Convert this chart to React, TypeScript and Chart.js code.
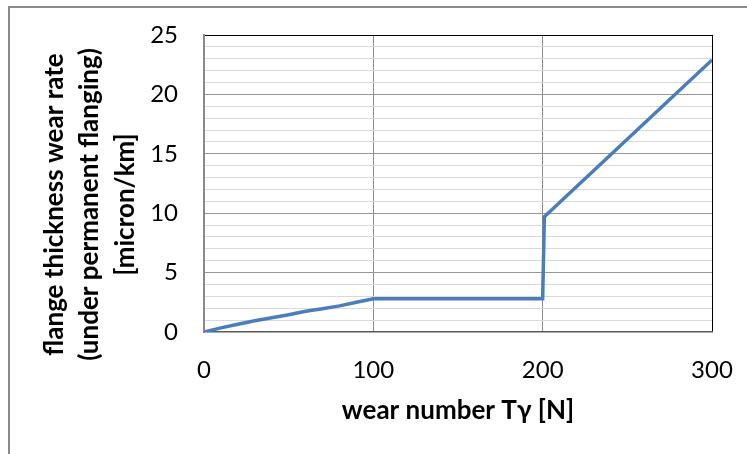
import React, { useEffect, useRef } from "react";
import { Chart, registerables } from "chart.js";

Chart.register(...registerables);

// ---- data ----
const xValues = [0, 10, 20, 30, 40, 50, 60, 70, 80, 90, 100, 200, 201, 300];
const yValues = [0, 0.35, 0.65, 0.95, 1.2, 1.45, 1.75, 1.95, 2.2, 2.5, 2.8, 2.8, 9.7, 22.9];
const xTicks = [0, 100, 200, 300];
const yMajorTicks = [0, 5, 10, 15, 20, 25];
const xTitle = "wear number Tγ [N]";
const yTitleLines = ["flange thickness wear rate", "(under permanent flanging)", "[micron/km]"];

const FONT = "Lato, 'Open Sans', sans-serif";

const yTitlePlugin = {
  id: "yTitleLines",
  afterDraw(chart: any) {
    const ctx = chart.ctx as CanvasRenderingContext2D;
    const area = chart.chartArea;
    ctx.save();
    ctx.font = `bold 26px ${FONT}`;
    ctx.fillStyle = "#000";
    ctx.textAlign = "center";
    ctx.textBaseline = "middle";
    const cy = (area.top + area.bottom) / 2 + 21;
    const xs = [55, 90, 126];
    yTitleLines.forEach((t, i) => {
      ctx.save();
      ctx.translate(xs[i], cy);
      ctx.rotate(-Math.PI / 2);
      ctx.fillText(t, 0, 0);
      ctx.restore();
    });
    ctx.restore();
  },
};

const zeroPad = (s: any) => {
  s.paddingTop = 0;
  s.paddingBottom = 0;
  s.paddingLeft = 0;
  s.paddingRight = 0;
};

export default function App() {
  const ref = useRef<HTMLCanvasElement | null>(null);

  useEffect(() => {
    if (!ref.current) return;
    const chart = new Chart(ref.current, {
      type: "scatter",
      data: {
        datasets: [
          {
            data: xValues.map((x, i) => ({ x, y: yValues[i] })),
            showLine: true,
            borderColor: "#4a7ebb",
            backgroundColor: "#4a7ebb",
            borderWidth: 3.5,
            pointRadius: 0,
            tension: 0,
            fill: false,
          },
        ],
      },
      options: {
        responsive: false,
        animation: false,
        plugins: { legend: { display: false }, tooltip: { enabled: false } },
        layout: { padding: { left: 0, top: 35, right: 35, bottom: 0 } },
        scales: {
          x: {
            type: "linear",
            min: 0,
            max: 300,
            afterBuildTicks: (s: any) => {
              s.ticks = xTicks.map((v) => ({ value: v }));
            },
            afterFit: (s: any) => {
              s.height = 122;
              zeroPad(s);
            },
            grid: {
              drawTicks: false,
              lineWidth: 1,
              color: (c: any) =>
                c.tick && c.tick.value === 300 ? "#000000" : c.tick && c.tick.value === 0 ? "rgba(0,0,0,0)" : "#8c8c8c",
            },
            border: { color: "#595959", width: 1.5 },
            ticks: {
              color: "#000",
              font: { family: FONT, size: 24 },
              padding: 24,
              maxRotation: 0,
              autoSkip: false,
            },
            title: {
              display: true,
              text: xTitle,
              color: "#000",
              font: { family: FONT, size: 26, weight: "bold" },
              padding: { top: 0, bottom: 28 },
            },
          },
          y: {
            type: "linear",
            min: 0,
            max: 25,
            afterFit: (s: any) => {
              s.width = 204;
              zeroPad(s);
            },
            grid: {
              drawTicks: false,
              lineWidth: 1,
              color: (c: any) => {
                const v = c.tick ? c.tick.value : 0;
                if (v === 25) return "#000000";
                if (v === 0) return "rgba(0,0,0,0)";
                return yMajorTicks.includes(v) ? "#979797" : "#d9d9d9";
              },
            },
            border: { color: "#898989", width: 2 },
            ticks: {
              stepSize: 1,
              autoSkip: false,
              color: "#000",
              font: { family: FONT, size: 24 },
              padding: 26,
              callback: (v: any) => (yMajorTicks.includes(Number(v)) ? String(v) : ""),
            },
          },
        },
      },
      plugins: [yTitlePlugin],
    } as any);
    return () => chart.destroy();
  }, []);

  return (
    <div style={{ position: "absolute", left: 0, top: 0, width: 747, height: 454, overflow: "hidden", background: "#fff" }}>
      <div
        style={{
          position: "absolute",
          left: 8,
          top: 6,
          width: 737,
          height: 446,
          borderTop: "2px solid #8a8a8a",
          borderLeft: "2px solid #8a8a8a",
        }}
      />
      <canvas ref={ref} width={747} height={454} style={{ position: "absolute", left: 0, top: 0, display: "block" }} />
    </div>
  );
}
